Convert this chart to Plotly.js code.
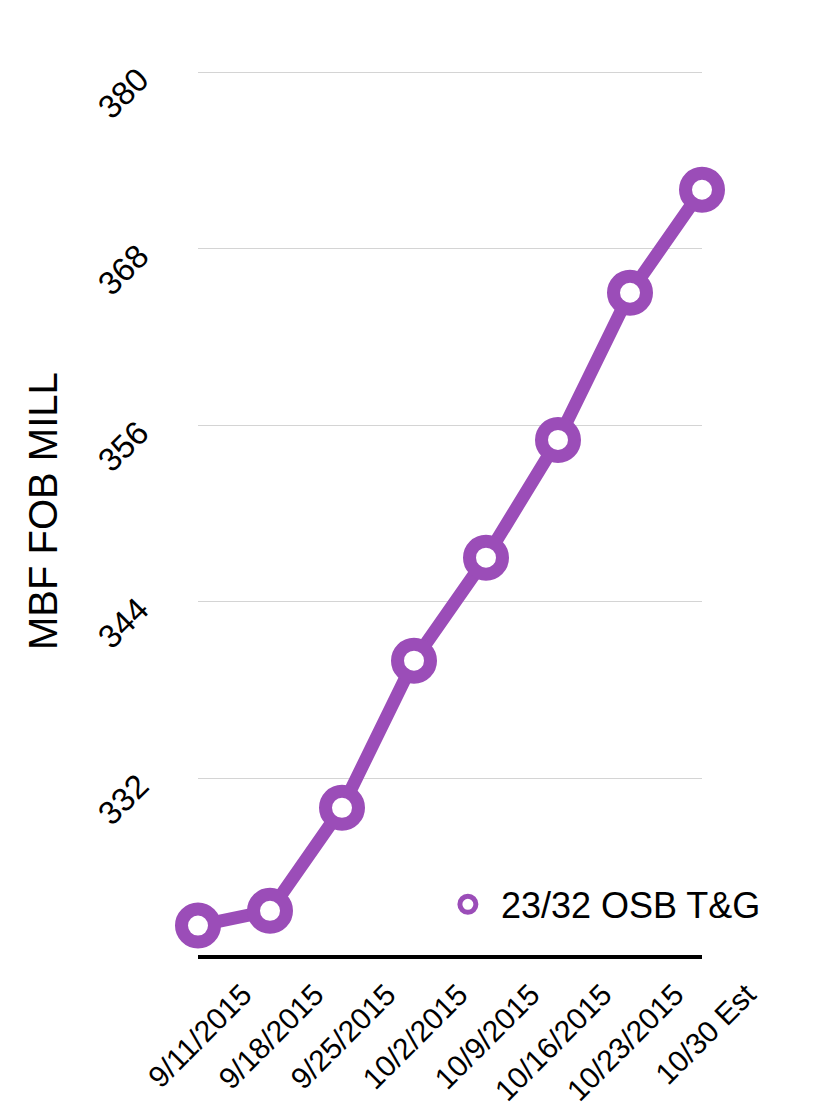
<!DOCTYPE html>
<html>
<head>
<meta charset="utf-8">
<script src="https://cdn.plot.ly/plotly-3.0.1.min.js"></script>
<style>
html,body{margin:0;padding:0;background:#fff;}
#chart{width:830px;height:1108px;}
</style>
</head>
<body>
<div id="chart"></div>
<script>
var categories = ["9/11/2015","9/18/2015","9/25/2015","10/2/2015","10/9/2015","10/16/2015","10/23/2015","10/30 Est"];
var prices = [322, 323, 330, 340, 347, 355, 365, 372];
var yTicks = [332, 344, 356, 368, 380];
var seriesName = "23/32 OSB T&G";
var yTitle = "MBF FOB MILL";
var purple = "#9b4db8";
var fontFam = "'Liberation Sans', Arial, Helvetica, sans-serif";

var lineTrace = {
  x: categories, y: prices, type: "scatter", mode: "lines",
  line: {color: purple, width: 13}, showlegend: false, cliponaxis: false, hoverinfo: "skip"
};
var markerTrace = {
  x: categories, y: prices, type: "scatter", mode: "markers", name: seriesName,
  marker: {size: 33, color: "#ffffff", line: {color: purple, width: 13}},
  cliponaxis: false
};

var layout = {
  width: 830, height: 1108,
  margin: {l: 198, r: 128, t: 67, b: 153, autoexpand: false},
  paper_bgcolor: "#fff", plot_bgcolor: "#fff",
  font: {family: fontFam, color: "#000"},
  showlegend: true,
  legend: {x: 0.47, y: 0.057, xanchor: "left", yanchor: "middle", itemwidth: 56,
           font: {size: 36, family: fontFam}, bgcolor: "rgba(0,0,0,0)"},
  xaxis: {
    type: "category", range: [0, categories.length - 1],
    showgrid: false, zeroline: false,
    showline: true, linecolor: "#000", linewidth: 4,
    ticks: "", tickangle: -45, tickfont: {size: 30, family: fontFam},
    ticklabelstandoff: 6, ticklabelshift: 45, automargin: false
  },
  yaxis: {
    range: [320, 380.34], tickvals: yTicks, ticktext: yTicks.map(String),
    showgrid: true, gridcolor: "#d4d4d4", gridwidth: 1,
    zeroline: false, showline: false, ticks: "",
    tickangle: -45, tickfont: {size: 33, family: fontFam},
    ticklabelstandoff: 58, ticklabelshift: 3, automargin: false
  },
  annotations: [{
    text: yTitle, xref: "paper", yref: "paper", x: -0.3075, y: 0.5,
    xanchor: "center", yanchor: "middle", textangle: -90, showarrow: false,
    font: {size: 40, family: fontFam, color: "#000"}
  }]
};

Plotly.newPlot("chart", [lineTrace, markerTrace], layout, {displayModeBar: false, staticPlot: true});
</script>
</body>
</html>
